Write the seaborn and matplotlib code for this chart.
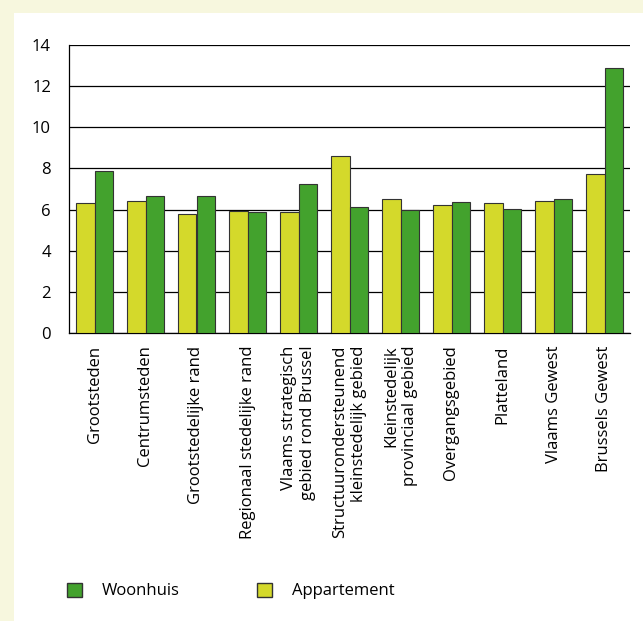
import matplotlib
matplotlib.use("Agg")
import matplotlib.pyplot as plt
from matplotlib.patches import Patch, Rectangle
import seaborn as sns
import pandas as pd
import numpy as np

categories = [
    "Grootsteden",
    "Centrumsteden",
    "Grootstedelijke rand",
    "Regionaal stedelijke rand",
    "Vlaams strategisch\ngebied rond Brussel",
    "Structuurondersteunend\nkleinstedelijk gebied",
    "Kleinstedelijk\nprovinciaal gebied",
    "Overgangsgebied",
    "Platteland",
    "Vlaams Gewest",
    "Brussels Gewest",
]
appartement = [6.3, 6.4, 5.77, 5.93, 5.86, 8.62, 6.5, 6.2, 6.3, 6.4, 7.75]
woonhuis = [7.87, 6.65, 6.65, 5.86, 7.24, 6.14, 5.96, 6.39, 6.05, 6.5, 12.88]
series_names = ["Appartement", "Woonhuis"]
yticks = [0, 2, 4, 6, 8, 10, 12, 14]

colors = {"Appartement": "#d4d92b", "Woonhuis": "#43a22d"}

sns.set_style("white")
plt.rcParams["font.family"] = ["Open Sans", "DejaVu Sans"]
plt.rcParams["text.color"] = "black"
plt.rcParams["xtick.color"] = "black"
plt.rcParams["ytick.color"] = "black"

FS = 12

df = pd.DataFrame({
    "cat": categories * 2,
    "serie": ["Appartement"] * len(categories) + ["Woonhuis"] * len(categories),
    "val": appartement + woonhuis,
})

fig = plt.figure(figsize=(6.43, 6.21), dpi=100, facecolor="#f7f7de")
fig.patches.append(Rectangle((14 / 643, 0), 1, 1 - 13 / 621, transform=fig.transFigure,
                             facecolor="white", edgecolor="none", zorder=-10))
ax = fig.add_axes([69 / 643, 1 - 333 / 621, (630 - 69) / 643, (333 - 45) / 621])
ax.set_zorder(1)
ax.set_facecolor("white")

sns.barplot(data=df, x="cat", y="val", hue="serie", order=categories,
            hue_order=series_names, palette=colors, saturation=1, width=0.71, gap=0,
            edgecolor="#333333", linewidth=0.8, ax=ax, legend=False, zorder=3)

ax.set_xlim(-0.5, len(categories) - 0.5)
ax.set_ylim(0, 14)
ax.set_yticks(yticks)
ax.set_yticklabels([str(t) for t in yticks], fontsize=FS)
ax.yaxis.grid(True, color="black", linewidth=0.9)
ax.set_axisbelow(True)
ax.tick_params(axis="y", length=0, pad=13, labelcolor="black")

ax.set_xticks(range(len(categories)))
ax.set_xticklabels(categories, rotation=90, fontsize=FS, ha="center", va="top",
                   multialignment="right")
ax.tick_params(axis="x", which="major", length=0, pad=9, labelcolor="black")
ax.set_xticks(np.arange(0.5, len(categories), 1.0), minor=True)
ax.tick_params(axis="x", which="minor", direction="in", length=8, width=0.9, color="black")

ax.set_xlabel("")
ax.set_ylabel("")
for s in ["top", "right"]:
    ax.spines[s].set_visible(False)
for s in ["left", "bottom"]:
    ax.spines[s].set_color("black")
    ax.spines[s].set_linewidth(0.9)

handles = [Patch(facecolor=colors["Woonhuis"], edgecolor="#333333", label="Woonhuis"),
           Patch(facecolor=colors["Appartement"], edgecolor="#333333", label="Appartement")]
fig.legend(handles=handles, loc="center left", bbox_to_anchor=(67 / 643, 1 - 591 / 621),
           ncol=2, frameon=False, fontsize=FS, handlelength=0.9, handleheight=0.9,
           handletextpad=1.2, columnspacing=4.65, borderpad=0, borderaxespad=0)

fig.savefig("out.png", dpi=100, facecolor=fig.get_facecolor())
